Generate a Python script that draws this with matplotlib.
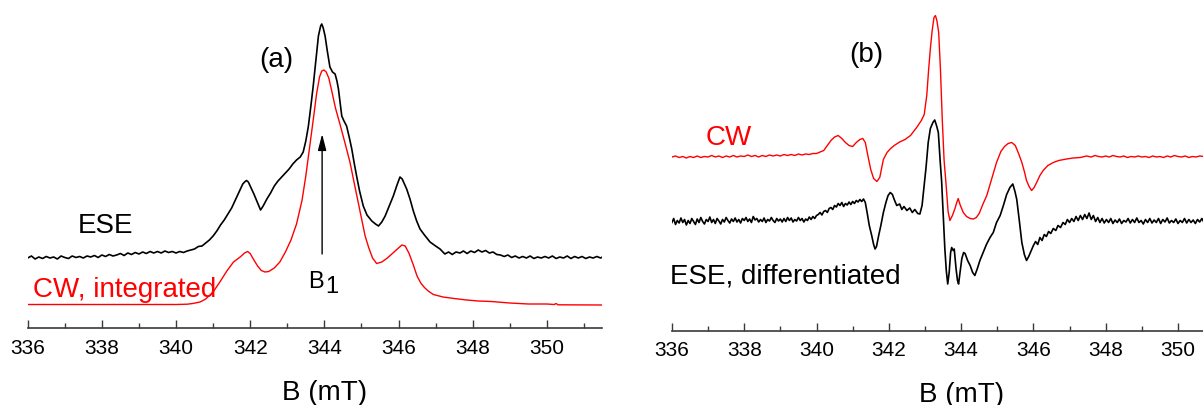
import numpy as np
import matplotlib
matplotlib.use('Agg')
import matplotlib.pyplot as plt
from matplotlib.ticker import MultipleLocator

plt.rcParams['font.family'] = ['Liberation Sans', 'DejaVu Sans']

# ---------------- panel (a): ESE vs integrated CW (arb. units) ----------------
B_ese_a = [336.0, 336.1, 336.2, 336.3, 336.4, 336.5, 336.6, 336.7, 336.8, 336.9,
           337.0, 337.1, 337.2, 337.3, 337.4, 337.5, 337.6, 337.7, 337.8, 337.9,
           338.0, 338.1, 338.2, 338.3, 338.4, 338.5, 338.6, 338.7, 338.8, 338.9,
           339.0, 339.1, 339.2, 339.3, 339.4, 339.5, 339.6, 339.7, 339.8, 339.9,
           340.0, 340.1, 340.2, 340.3, 340.4, 340.5, 340.6, 340.7, 340.8, 340.9,
           341.0, 341.1, 341.2, 341.3, 341.4, 341.5, 341.6, 341.7, 341.8, 341.85,
           341.9, 341.95, 342.0, 342.1, 342.2, 342.28, 342.35, 342.45, 342.55, 342.65,
           342.75, 342.85, 342.95, 343.05, 343.15, 343.25, 343.35, 343.43, 343.5, 343.57,
           343.64, 343.7, 343.77, 343.84, 343.9, 343.93, 343.97, 344.02, 344.08, 344.15,
           344.22, 344.29, 344.34, 344.38, 344.43, 344.47, 344.53, 344.6, 344.67, 344.74,
           344.8, 344.87, 344.95, 345.05, 345.15, 345.28, 345.38, 345.46, 345.55, 345.64,
           345.75, 345.86, 345.96, 346.04, 346.1, 346.22, 346.31, 346.4, 346.49, 346.58,
           346.7, 346.85, 347.0, 347.12, 347.25, 347.35, 347.45, 347.55, 347.66, 347.75,
           347.85, 347.95, 348.05, 348.15, 348.25, 348.35, 348.45, 348.55, 348.65, 348.75,
           348.85, 348.95, 349.05, 349.15, 349.25, 349.35, 349.45, 349.55, 349.65, 349.75,
           349.85, 349.95, 350.05, 350.15, 350.25, 350.35, 350.45, 350.55, 350.65, 350.75,
           350.85, 350.95, 351.05, 351.15, 351.25, 351.35, 351.45, 351.5]
ese_a = [70, 72, 69, 71, 69.5, 71.5, 70, 71, 69, 72,
         70.5, 69.5, 72, 70.5, 71.5, 70, 72, 71, 72.5, 70.5,
         73, 71.5, 73.5, 72, 73, 74.5, 72.5, 75, 73.5, 75.5,
         74, 76, 74.5, 76.5, 75, 76.5, 75, 77, 75.5, 76.5,
         75, 76.5, 75.5, 77, 78, 79, 81.5, 82, 85, 88,
         92, 97, 103, 108, 114, 120, 128, 136, 144, 146,
         147.5, 146, 142, 134, 125, 118, 122, 129, 135, 142,
         147, 151, 155, 159, 164, 168, 171, 176, 187, 202,
         223, 242, 267, 292, 302, 304, 300, 292, 277, 261,
         256, 254, 247, 239, 224, 212, 207, 202, 191, 179,
         166, 152, 137, 122, 113, 107, 104, 102, 106, 112,
         122, 132, 143, 151, 149, 139, 129, 117, 107, 99,
         93, 86, 82, 79, 74, 76, 73.5, 76, 75, 77,
         74.5, 77, 75.5, 78, 76, 77.5, 75, 76, 73.5, 73,
         71.5, 73, 70.5, 72, 70, 71.5, 70, 72, 69.5, 71,
         70, 71.5, 70, 72, 69.5, 71, 70, 72, 69.5, 71.5,
         70, 71.5, 69.5, 71, 70, 71.5, 70, 71]

B_cw_a = [336.0, 337.0, 338.0, 339.0, 340.0, 340.3, 340.45, 340.65, 340.8, 341.0,
          341.2, 341.37, 341.55, 341.73, 341.85, 341.93, 342.0, 342.1, 342.2, 342.3,
          342.4, 342.5, 342.65, 342.8, 342.95, 343.1, 343.25, 343.4, 343.5, 343.6,
          343.7, 343.79, 343.87, 343.93, 343.99, 344.05, 344.12, 344.2, 344.3, 344.42,
          344.55, 344.69, 344.8, 344.9, 345.0, 345.1, 345.2, 345.3, 345.41, 345.55,
          345.7, 345.85, 346.0, 346.09, 346.18, 346.28, 346.4, 346.5, 346.6, 346.7,
          346.8, 346.94, 347.2, 347.5, 347.84, 348.15, 348.5, 349.0, 349.5, 350.0,
          350.2, 350.25, 350.3, 351.5]
cw_int_a = [23.5, 23.5, 23.5, 23.5, 23.5, 23.8, 24.5, 26, 29, 36,
            47, 57, 66, 71, 75, 76.5, 74.5, 68, 62, 57.5,
            56, 56.5, 60, 66, 76, 88, 104, 128, 152, 180,
            208, 234, 251, 257, 258, 256, 250, 237, 220, 204,
            186, 166, 146, 128, 110, 92, 80, 70, 64.5, 66,
            70, 75, 80, 83, 82, 75, 63, 52, 45, 40.5,
            37, 33.5, 31, 29.5, 28, 27, 26.5, 25, 24, 24,
            23.5, 24.5, 23.2, 23]

B1_pos = 343.94

# ---------------- panel (b): CW vs differentiated ESE (arb. units) ----------------
B_cw_b = [336.0, 336.1, 336.2, 336.3, 336.4, 336.5, 336.6, 336.7, 336.8, 336.9,
          337.0, 337.1, 337.2, 337.3, 337.4, 337.5, 337.6, 337.7, 337.8, 337.9,
          338.0, 338.1, 338.2, 338.3, 338.4, 338.5, 338.6, 338.7, 338.8, 338.9,
          339.0, 339.1, 339.2, 339.3, 339.4, 339.5, 339.6, 339.7, 339.8, 339.9,
          340.0, 340.1, 340.2, 340.3, 340.4, 340.5, 340.6, 340.7, 340.8, 340.9,
          341.0, 341.1, 341.2, 341.28, 341.35, 341.42, 341.5, 341.58, 341.67, 341.75,
          341.85, 341.95, 342.05, 342.15, 342.3, 342.45, 342.6, 342.77, 342.9, 342.98,
          343.05, 343.1, 343.15, 343.2, 343.25, 343.29, 343.33, 343.38, 343.43, 343.48,
          343.53, 343.58, 343.64, 343.69, 343.76, 343.83, 343.88, 343.92, 343.97, 344.06,
          344.15, 344.25, 344.34, 344.42, 344.5, 344.6, 344.71, 344.85, 344.98, 345.1,
          345.2, 345.3, 345.4, 345.5, 345.6, 345.68, 345.75, 345.81, 345.88, 345.95,
          346.02, 346.09, 346.18, 346.27, 346.4, 346.55, 346.7, 346.92, 347.1, 347.3,
          347.47, 347.6, 347.7, 347.8, 347.9, 348.0, 348.1, 348.2, 348.3, 348.4,
          348.5, 348.6, 348.7, 348.8, 348.9, 349.0, 349.1, 349.2, 349.3, 349.4,
          349.5, 349.6, 349.7, 349.8, 349.9, 350.0, 350.1, 350.2, 350.3, 350.4,
          350.5, 350.6, 350.7, 351.0, 351.5]
cw_b = [173.5, 174.5, 173, 174, 172.5, 174, 173, 174.5, 173, 174,
        173.5, 175, 173.5, 174.5, 173, 174.5, 173.5, 175, 173.5, 174.5,
        174, 175.5, 174, 175, 173.5, 175, 174, 175.5, 174.5, 175.5,
        174.5, 176, 175, 176, 175, 176.5, 175.5, 176.5, 176, 177,
        177, 178.5, 180, 185, 190, 193.5, 195, 192, 188, 185,
        184, 188, 191, 192, 188, 175, 161, 152, 149, 153,
        171, 178, 182, 185, 188.5, 191, 195, 203, 210, 216,
        235, 260, 282, 300, 313, 315, 310, 298, 260, 210,
        170, 148, 119, 110, 115, 122, 128, 132, 126, 118,
        114, 112, 111.5, 113, 117, 126, 135, 152, 168, 179,
        184, 187, 188, 185, 176, 168, 159, 150, 144, 140,
        143, 148, 155, 160, 165, 168, 170, 171.5, 172.5, 173,
        174.5, 173.5, 175, 174, 173.5, 174.5, 173.5, 175, 174, 173.5,
        174.5, 173, 174, 173.5, 174.5, 173.5, 174, 173, 174.5, 173.5,
        174, 173, 174.5, 173.5, 175, 174, 173.5, 174.5, 173, 174,
        173.5, 174.5, 174, 174, 174]

B_ese_b = [336.0, 336.05, 336.1, 336.15, 336.2, 336.25, 336.3, 336.35, 336.4, 336.45,
           336.5, 336.55, 336.6, 336.65, 336.7, 336.75, 336.8, 336.85, 336.9, 336.95,
           337.0, 337.05, 337.1, 337.15, 337.2, 337.25, 337.3, 337.35, 337.4, 337.45,
           337.5, 337.55, 337.6, 337.65, 337.7, 337.75, 337.8, 337.85, 337.9, 337.95,
           338.0, 338.05, 338.1, 338.15, 338.2, 338.25, 338.3, 338.35, 338.4, 338.45,
           338.5, 338.55, 338.6, 338.65, 338.7, 338.75, 338.8, 338.85, 338.9, 338.95,
           339.0, 339.05, 339.1, 339.15, 339.2, 339.25, 339.3, 339.35, 339.4, 339.45,
           339.5, 339.55, 339.6, 339.65, 339.7, 339.75, 339.8, 339.85, 339.9, 339.95,
           340.0, 340.05, 340.1, 340.15, 340.2, 340.25, 340.3, 340.35, 340.4, 340.45,
           340.5, 340.55, 340.6, 340.65, 340.7, 340.75, 340.8, 340.85, 340.9, 340.95,
           341.0, 341.05, 341.1, 341.15, 341.2, 341.25, 341.3, 341.35, 341.4, 341.46,
           341.53, 341.58, 341.62, 341.66, 341.72, 341.78, 341.85, 341.92, 341.98, 342.04,
           342.1, 342.15, 342.22, 342.3, 342.36, 342.42, 342.5, 342.58, 342.65, 342.72,
           342.8, 342.86, 342.92, 342.97, 343.03, 343.09, 343.15, 343.22, 343.27, 343.32,
           343.37, 343.42, 343.46, 343.5, 343.55, 343.59, 343.63, 343.67, 343.71, 343.74,
           343.78, 343.81, 343.86, 343.9, 343.93, 343.97, 344.02, 344.07, 344.11, 344.18,
           344.25, 344.32, 344.38, 344.45, 344.52, 344.61, 344.7, 344.8, 344.89, 344.98,
           345.08, 345.17, 345.26, 345.35, 345.43, 345.49, 345.54, 345.61, 345.68, 345.75,
           345.81, 345.87, 345.94, 346.0, 346.06, 346.12, 346.18, 346.24, 346.3, 346.36,
           346.42, 346.48, 346.55, 346.62, 346.68, 346.75, 346.82, 346.88, 346.94, 347.0,
           347.06, 347.12, 347.18, 347.24, 347.3, 347.36, 347.42, 347.48, 347.54, 347.6,
           347.66, 347.72, 347.78, 347.84, 347.9, 347.96, 348.02, 348.08, 348.14, 348.2,
           348.26, 348.32, 348.38, 348.44, 348.5, 348.56, 348.62, 348.68, 348.74, 348.8,
           348.86, 348.92, 348.98, 349.04, 349.1, 349.16, 349.22, 349.28, 349.34, 349.4,
           349.46, 349.52, 349.58, 349.64, 349.7, 349.76, 349.82, 349.88, 349.94, 350.0,
           350.06, 350.12, 350.18, 350.24, 350.3, 350.36, 350.42, 350.48, 350.54, 350.6,
           350.66, 350.72, 350.8]
ese_diff_b = [108, 112, 106, 110, 107.5, 112.5, 108, 111, 105.5, 110,
              107, 112, 109, 106, 111.5, 108, 113, 109, 106.5, 111,
              109, 113.5, 108, 111, 107, 112, 109.5, 106.5, 111, 108.5,
              113, 110, 107.5, 111.5, 109, 112.5, 108.5, 111, 107.5, 112,
              110, 113, 109, 111.5, 108, 114, 110.5, 112, 108.5, 111,
              109, 112.5, 108, 111, 109.5, 113, 110, 108, 112, 109.5,
              111.5, 108.5, 112, 109, 113, 110, 112.5, 108.5, 111, 109.5,
              113, 110, 112, 108.5, 111.5, 110, 113.5, 111, 114, 112,
              115, 116, 118, 115.5, 119, 120, 118, 122, 123, 121,
              125, 123.5, 127, 125, 128, 124, 127, 125.5, 128.5, 126,
              129, 127, 130, 128.5, 131, 129, 131.5, 128, 118, 105,
              94.5, 86, 81.5, 84, 95, 105, 118, 128, 135, 138,
              136, 131, 125, 126.5, 121, 124, 120, 122.5, 118, 121,
              117, 116.5, 125, 142, 163, 188, 202, 208, 210.5, 205,
              198, 170, 150, 120, 82, 60, 46.5, 58, 78, 83,
              80, 81.5, 62, 50, 46.5, 58, 72, 78, 77, 70,
              65, 58, 55, 62, 70, 78, 86, 93, 98, 108,
              115, 125, 136, 143, 146.5, 139, 131, 110, 88, 76,
              70, 74, 80, 85, 89, 86, 93, 90, 96, 94,
              99, 97, 102, 100, 105, 103, 108, 106, 111, 108,
              112, 109, 114, 110, 115, 111, 116, 112, 117.5, 111,
              115, 109, 113, 108, 112, 107.5, 111, 108, 112, 107,
              110.5, 108, 111.5, 107, 110, 108.5, 112, 107.5, 111, 108,
              112.5, 108, 110, 106.5, 111, 108, 112, 107.5, 110.5, 108,
              112, 107, 111, 108.5, 112.5, 107.5, 110, 108, 111.5, 107,
              110, 108, 112, 107.5, 111, 108, 110.5, 107, 111, 108.5,
              112, 108, 110]

axis_col = '#3a3a3a'


def style_axis(ax, top):
    for s in ['left', 'right', 'top']:
        ax.spines[s].set_visible(False)
    ax.spines['bottom'].set_color(axis_col)
    ax.spines['bottom'].set_linewidth(1.2)
    ax.set_yticks([])
    ax.set_xlim(336, 351.5)
    ax.set_ylim(0, top)
    ax.xaxis.set_major_locator(MultipleLocator(2))
    ax.xaxis.set_minor_locator(MultipleLocator(1))
    ax.tick_params(axis='x', which='major', direction='in', length=6, width=1,
                   color=axis_col, labelsize=15, pad=7)
    ax.tick_params(axis='x', which='minor', direction='in', length=3.5, width=1,
                   color=axis_col)
    ax.set_xlabel('B (mT)', fontsize=20, labelpad=16)
    ax.xaxis.label.set_x((344 - 336) / 15.5)
    ax.patch.set_alpha(0)


fig = plt.figure(figsize=(12.03, 4.06), dpi=100)
W, H = 1203.0, 406.0

# panel (a)
axa = fig.add_axes([27.7 / W, 77 / H, 15.5 * 37.08 / W, 329 / H])
style_axis(axa, 329)
axa.plot(B_ese_a, ese_a, color='k', lw=1.2)
axa.plot(B_cw_a, cw_int_a, color='#ff0000', lw=1.0)
axa.annotate('', xy=(B1_pos, 194), xytext=(B1_pos, 74),
             arrowprops=dict(arrowstyle='-|>,head_length=0.7,head_width=0.18',
                             color='k', lw=1, mutation_scale=14,
                             shrinkA=0, shrinkB=0))
axa.text(343.57, 41, 'B', fontsize=17, ha='left', va='baseline')
axa.text(344.02, 36, '1', fontsize=17, ha='left', va='baseline')
axa.text(342.71, 269, '(a)', fontsize=20, ha='center', va='center')
axa.text(337.34, 96, 'ESE', fontsize=20, ha='left', va='baseline')
axa.text(336.15, 32, 'CW, integrated', fontsize=20, ha='left', va='baseline',
         color='#ff0000')

# panel (b)
axb = fig.add_axes([671.9 / W, 74.5 / H, 15.5 * 36.15 / W, 331.5 / H])
style_axis(axb, 331.5)
axb.plot(B_cw_b, cw_b, color='#ff0000', lw=1.0)
axb.plot(B_ese_b, ese_diff_b, color='k', lw=1.2)
axb.text(341.39, 276.5, '(b)', fontsize=20, ha='center', va='center')
axb.text(336.94, 186.5, 'CW', fontsize=20, ha='left', va='baseline',
         color='#ff0000')
axb.text(335.95, 48, 'ESE, differentiated', fontsize=20, ha='left',
         va='baseline')

plt.savefig('out.png', dpi=100)
plt.close()
